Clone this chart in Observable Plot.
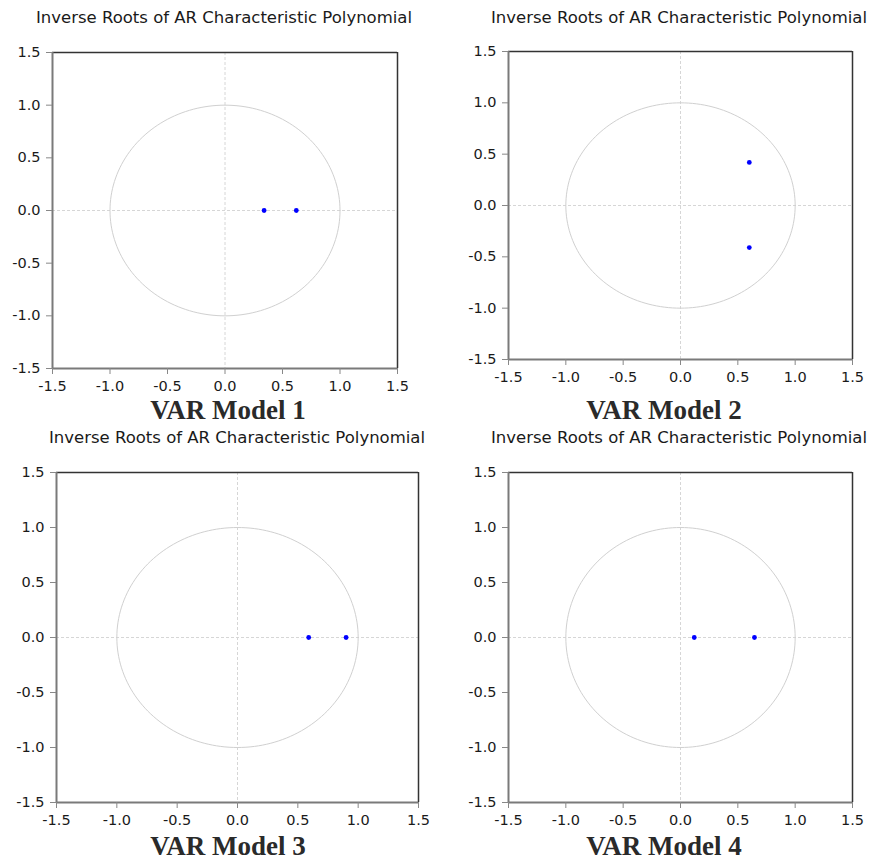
<!DOCTYPE html>
<html><head><meta charset="utf-8">
<script src="https://cdn.jsdelivr.net/npm/d3@7"></script>
<script src="https://cdn.jsdelivr.net/npm/@observablehq/plot@0.6"></script>
<style>
body{margin:0;background:#fff;}
#root{position:relative;width:872px;height:860px;overflow:hidden;background:#fff;}
.title{position:absolute;width:480px;text-align:center;font-family:"DejaVu Sans";font-size:16.5px;line-height:16px;color:#1a1a1a;white-space:nowrap;}
.caption{position:absolute;width:300px;text-align:center;font-family:"Liberation Serif";font-weight:bold;font-size:27px;line-height:26px;color:#2a2a2a;white-space:nowrap;}
.panel{position:absolute;}
</style></head><body><div id="root"></div>
<script>
// ---- data ----
const panelTitles = [
  "Inverse Roots of AR Characteristic Polynomial",
  "Inverse Roots of AR Characteristic Polynomial",
  "Inverse Roots of AR Characteristic Polynomial",
  "Inverse Roots of AR Characteristic Polynomial"
];
const modelNames = ["VAR Model 1", "VAR Model 2", "VAR Model 3", "VAR Model 4"];
// inverse roots: real parts and imaginary parts per model
const rootsReal1 = [0.34, 0.62];
const rootsImag1 = [0, 0];
const rootsReal2 = [0.60, 0.60];
const rootsImag2 = [0.42, -0.41];
const rootsReal3 = [0.59, 0.90];
const rootsImag3 = [0, 0];
const rootsReal4 = [0.12, 0.645];
const rootsImag4 = [0, 0];
const axisTicks = [-1.5, -1.0, -0.5, 0.0, 0.5, 1.0, 1.5];

// ---- layout (frame edges in page pixels) ----
const layout = [
  {L: 52, R: 397, T: 52, B: 368, tx: 224, ty: 9.5, cx: 228, cy: 397},
  {L: 508, R: 852, T: 51, B: 359, tx: 679, ty: 9.5, cx: 664, cy: 397},
  {L: 56, R: 418, T: 472, B: 802, tx: 237, ty: 429.5, cx: 228, cy: 833},
  {L: 508, R: 852, T: 472, B: 802, tx: 679, ty: 429.5, cx: 664, cy: 833}
];

const realParts = [rootsReal1, rootsReal2, rootsReal3, rootsReal4];
const imagParts = [rootsImag1, rootsImag2, rootsImag3, rootsImag4];

// unit circle reference (geometry, not data)
const unitCircle = d3.range(0, 361, 2).map(a => ({x: Math.cos(a * Math.PI / 180), y: Math.sin(a * Math.PI / 180)}));
const fmt = d => d.toFixed(1);

const root = document.getElementById("root");

function addPanel(i) {
  const lay = layout[i];
  const roots = realParts[i].map((re, k) => ({re, im: imagParts[i][k]}));
  const mL = 52, mT = 12, mR = 14, mB = 34;
  const w = lay.R - lay.L, h = lay.B - lay.T;
  const svg = Plot.plot({
    width: mL + w + mR,
    height: mT + h + mB,
    marginLeft: mL, marginTop: mT, marginRight: mR, marginBottom: mB,
    style: {background: "transparent", fontFamily: "DejaVu Sans", fontSize: "14.5px", color: "#1a1a1a", overflow: "visible"},
    x: {domain: [-1.5, 1.5]},
    y: {domain: [-1.5, 1.5]},
    marks: [
      Plot.ruleX([0], {stroke: "#d6d6d6", strokeDasharray: "3,2"}),
      Plot.ruleY([0], {stroke: "#d6d6d6", strokeDasharray: "3,2"}),
      Plot.line(unitCircle, {x: "x", y: "y", stroke: "#d0d0d0", strokeWidth: 1}),
      Plot.ruleX([1.5], {stroke: "#333", strokeWidth: 1.5}),
      Plot.ruleY([1.5], {stroke: "#333", strokeWidth: 1.5}),
      Plot.ruleX([-1.5], {stroke: "#7a7a7a", strokeWidth: 2}),
      Plot.ruleY([-1.5], {stroke: "#7a7a7a", strokeWidth: 2}),
      Plot.dot(roots, {x: "re", y: "im", r: 2.4, fill: "#0000ff", stroke: null}),
      Plot.axisX(axisTicks, {tickFormat: fmt, tickSize: 6, tickPadding: 6, stroke: "#888", fill: "#1a1a1a", label: null}),
      Plot.axisY(axisTicks, {tickFormat: fmt, tickSize: 6, tickPadding: 6, stroke: "#888", fill: "#1a1a1a", label: null})
    ]
  });
  const div = document.createElement("div");
  div.className = "panel";
  div.style.left = (lay.L - mL) + "px";
  div.style.top = (lay.T - mT) + "px";
  div.appendChild(svg);
  root.appendChild(div);

  const t = document.createElement("div");
  t.className = "title";
  t.textContent = panelTitles[i];
  t.style.left = (lay.tx - 240) + "px";
  t.style.top = lay.ty + "px";
  root.appendChild(t);

  const c = document.createElement("div");
  c.className = "caption";
  c.textContent = modelNames[i];
  c.style.left = (lay.cx - 150) + "px";
  c.style.top = lay.cy + "px";
  root.appendChild(c);
}
for (let i = 0; i < 4; i++) addPanel(i);
</script></body></html>
